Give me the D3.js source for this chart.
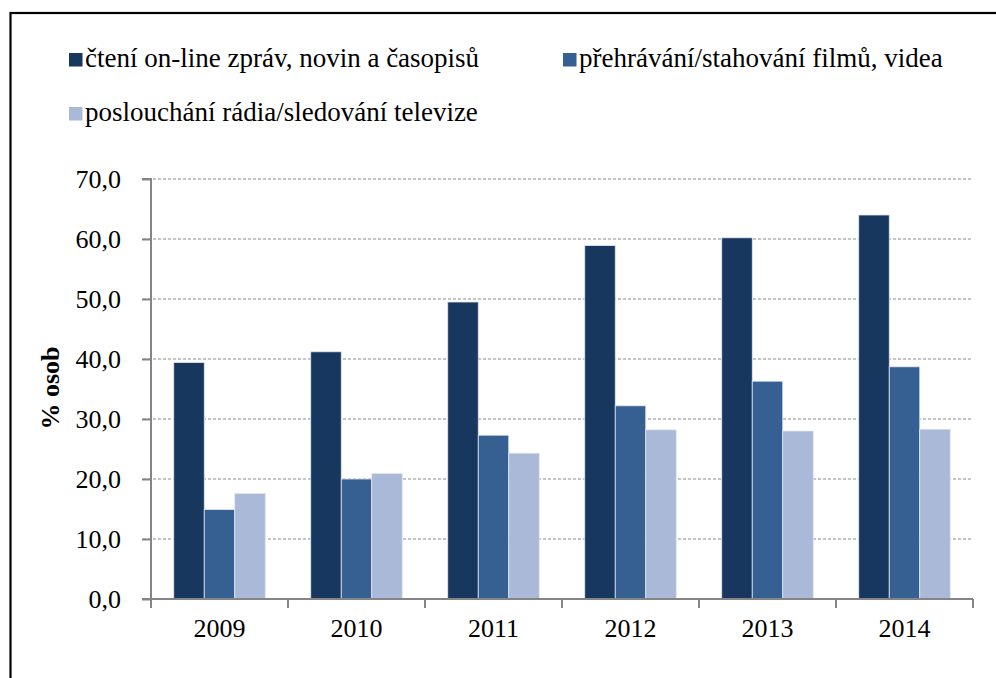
<!DOCTYPE html>
<html><head><meta charset="utf-8">
<script src="https://cdn.jsdelivr.net/npm/d3@7"></script>
<style>
body{margin:0;background:#fff}
#c, #c text{font-family:"Liberation Serif", Tinos, "Times New Roman", serif !important;}
</style>
</head><body>
<svg id="c" width="996" height="678" font-family="Liberation Serif"></svg>
<script>
const years = ["2009","2010","2011","2012","2013","2014"];
const seriesNames = ["čtení on-line zpráv, novin a časopisů","přehrávání/stahování filmů, videa","poslouchání rádia/sledování televize"];
const reading = [39.4, 41.2, 49.5, 58.9, 60.2, 64.0];
const video = [14.9, 20.0, 27.3, 32.2, 36.3, 38.7];
const radio = [17.6, 20.9, 24.3, 28.2, 28.0, 28.3];
const yTicks = [0,10,20,30,40,50,60,70];
const colors = ["#17375e","#376092","#a9b9d7"];
const series = [reading, video, radio];
const FONT = "Liberation Serif";

const svg = d3.select("#c");
svg.append("rect").attr("x",10.5).attr("y",13).attr("width",1000).attr("height",700)
  .attr("fill","#fff").attr("stroke","#000").attr("stroke-width",2.2);

const x0 = d3.scaleBand().domain(years).range([151,973]);
const x1 = d3.scaleBand().domain([0,1,2]).range([0, x0.bandwidth()]).paddingOuter(0.746).paddingInner(0);
const y = d3.scaleLinear().domain([0,70]).range([599,179]);

// gridlines
svg.append("g").selectAll("line").data(yTicks.filter(d=>d>0)).join("line")
  .attr("x1",143).attr("x2",973).attr("y1",d=>y(d)).attr("y2",d=>y(d))
  .attr("stroke","#8c8c8c").attr("stroke-width",1.2).attr("stroke-dasharray","3,2");

// bars
const g = svg.append("g");
years.forEach((yr,i)=>{
  series.forEach((s,j)=>{
    g.append("rect").attr("x",x0(yr)+x1(j)).attr("y",y(s[i]))
      .attr("width",x1.bandwidth()).attr("height",y(0)-y(s[i]))
      .attr("fill",colors[j]).attr("stroke","#dfe6f0").attr("stroke-width",0.8);
  });
});

// y axis
const ya = d3.axisLeft(y).tickValues(yTicks).tickSize(9).tickPadding(21)
  .tickFormat(d=>d3.format(".1f")(d).replace(".",","));
const yg = svg.append("g").attr("transform","translate(151,0)").call(ya);
yg.attr("font-family",null).attr("font-size",null);
yg.select(".domain").attr("stroke","#858585").attr("stroke-width",2).attr("d","M-9,179H0V599H-9");
yg.selectAll(".tick line").attr("stroke","#858585").attr("stroke-width",2);
yg.selectAll("text").attr("fill","#000").attr("dy","0.33em")
  .style("font-family",FONT).style("font-size","26px");

// x axis
const xa = d3.axisBottom(x0).tickSize(0).tickPadding(22);
const xg = svg.append("g").attr("transform","translate(0,599)").call(xa);
xg.attr("font-family",null).attr("font-size",null);
xg.select(".domain").attr("stroke","#858585").attr("stroke-width",2).attr("d","M151,0H973");
xg.selectAll("text").attr("fill","#000").attr("dy","0.6em")
  .style("font-family",FONT).style("font-size","26px");
xg.append("g").selectAll("line").data(years.map(d=>x0(d)).concat([973])).join("line")
  .attr("x1",d=>d).attr("x2",d=>d).attr("y1",0).attr("y2",9).attr("stroke","#858585").attr("stroke-width",2);

// y label
svg.append("text").attr("transform","translate(59,388) rotate(-90)").attr("text-anchor","middle")
  .style("font-family",FONT).style("font-size","26px").style("font-weight","bold").text("% osob");

// legend
const legPos = [[69,67],[563,67],[69,121]];
seriesNames.forEach((n,j)=>{
  svg.append("rect").attr("x",legPos[j][0]).attr("y",legPos[j][1]-14).attr("width",13.5).attr("height",13.5).attr("fill",colors[j]);
  svg.append("text").attr("x",legPos[j][0]+16).attr("y",legPos[j][1])
    .style("font-family",FONT).style("font-size","27px").text(n);
});
</script>
</body></html>
